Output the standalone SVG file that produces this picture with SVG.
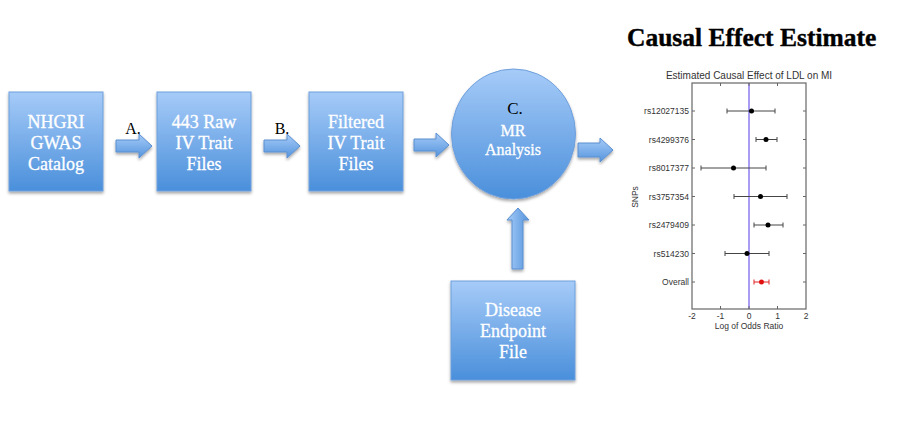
<svg xmlns="http://www.w3.org/2000/svg" width="903" height="422" viewBox="0 0 903 422">
<defs>
<linearGradient id="gb" x1="0" y1="0" x2="0" y2="1">
<stop offset="0" stop-color="#a6cbf8"/>
<stop offset="1" stop-color="#4a8fdb"/>
</linearGradient>
<linearGradient id="gh" x1="0" y1="0" x2="0" y2="1">
<stop offset="0" stop-color="#a6cbf8"/>
<stop offset="1" stop-color="#5595dd"/>
</linearGradient>
<linearGradient id="gv" x1="0" y1="0" x2="1" y2="0">
<stop offset="0" stop-color="#a6cbf8"/>
<stop offset="1" stop-color="#5595dd"/>
</linearGradient>
<filter id="sh" x="-10%" y="-10%" width="130%" height="130%">
<feDropShadow dx="0" dy="2" stdDeviation="1.5" flood-color="#000" flood-opacity="0.35"/>
</filter>
</defs>
<style>
.box{fill:url(#gb);stroke:#6e9fdc;stroke-width:1;filter:url(#sh)}
.arr{fill:url(#gh);stroke:#5a8fd0;stroke-width:1;filter:url(#sh)}
.wt{font-family:"Liberation Serif",serif;font-size:18px;fill:#fff;text-anchor:middle;stroke:#fff;stroke-width:0.3}
.bk{font-family:"Liberation Serif",serif;font-size:16px;fill:#000;text-anchor:middle}
.ax{font-family:"Liberation Sans",Arial,sans-serif;font-size:8.5px;fill:#333}
.frame{fill:none;stroke:#666;stroke-width:1.2}
.eb{stroke:#444;stroke-width:1;fill:none}
.tk{stroke:#666;stroke-width:1}
</style>

<g id="connectors">
<path class="arr" d="M116,140 H139 V134 L152,146 L139,158 V152 H116 Z"/>
<path class="arr" d="M264,140 H287 V134 L300,146 L287,158 V152 H264 Z"/>
<path class="arr" d="M414,139 H436 V133 L449,145 L436,157 V151 H414 Z"/>
<path class="arr" d="M578,143 H600 V138 L613,150 L600,162 V157 H578 Z"/>
<path class="arr" style="fill:url(#gv)" d="M512,269 V220 H507 L518,208 L529,220 H523 V269 Z"/>
</g>

<g id="labels">
<text class="bk" x="133" y="134">A.</text>
<text class="bk" x="282" y="134">B.</text>
</g>

<g id="nhgri">
<rect class="box" x="9" y="92" width="94" height="99"/>
<text class="wt" x="56" y="128">NHGRI</text>
<text class="wt" x="56" y="149">GWAS</text>
<text class="wt" x="56" y="170">Catalog</text>
</g>

<g id="raw">
<rect class="box" x="157" y="92" width="94" height="99"/>
<text class="wt" x="204" y="128">443 Raw</text>
<text class="wt" x="204" y="149">IV Trait</text>
<text class="wt" x="204" y="170">Files</text>
</g>

<g id="filtered">
<rect class="box" x="309" y="92" width="94" height="99"/>
<text class="wt" x="356" y="128">Filtered</text>
<text class="wt" x="356" y="149">IV Trait</text>
<text class="wt" x="356" y="170">Files</text>
</g>

<g id="mr">
<ellipse class="box" cx="513.5" cy="134" rx="62" ry="65"/>
<text class="bk" x="515" y="114" style="font-size:17px">C.</text>
<text class="wt" x="513" y="136" style="font-size:16px">MR</text>
<text class="wt" x="513" y="155" style="font-size:16px">Analysis</text>
</g>

<g id="disease">
<rect class="box" x="451" y="281" width="124" height="99"/>
<text class="wt" x="513" y="316">Disease</text>
<text class="wt" x="513" y="337">Endpoint</text>
<text class="wt" x="513" y="358">File</text>
</g>

<g id="plot">
<text x="627" y="46" style="font-family:'Liberation Serif',serif;font-weight:bold;font-size:25.5px;fill:#000;stroke:#000;stroke-width:0.4">Causal Effect Estimate</text>
<text class="ax" x="749" y="79" style="font-size:10px;text-anchor:middle">Estimated Causal Effect of LDL on MI</text>
<line x1="749" y1="83" x2="749" y2="309" stroke="#a89cf4" stroke-width="2"/>
<rect class="frame" x="692" y="83" width="114" height="226"/>
<g class="tk">
<path d="M692,111h3M692,139.5h3M692,168h3M692,196.5h3M692,225h3M692,253.5h3M692,282h3"/>
<path d="M806,111h-3M806,139.5h-3M806,168h-3M806,196.5h-3M806,225h-3M806,253.5h-3M806,282h-3"/>
<path d="M720.5,309v-3M749,309v-3M777.5,309v-3M720.5,83v3M749,83v3M777.5,83v3"/>
</g>
<g class="eb">
<path d="M727,111H775M727,108.5v5M775,108.5v5"/>
<path d="M756,139.5H777M756,137v5M777,137v5"/>
<path d="M701,168H766M701,165.5v5M766,165.5v5"/>
<path d="M734,196.5H787M734,194v5M787,194v5"/>
<path d="M754,225H783M754,222.5v5M783,222.5v5"/>
<path d="M725,253.5H769M725,251v5M769,251v5"/>
<path d="M754,282H769M754,279.5v5M769,279.5v5" stroke="#e02020"/>
</g>
<g fill="#000">
<circle cx="751.5" cy="111" r="2.5"/>
<circle cx="766" cy="139.5" r="2.5"/>
<circle cx="733.5" cy="168" r="2.5"/>
<circle cx="760.5" cy="196.5" r="2.5"/>
<circle cx="768" cy="225" r="2.5"/>
<circle cx="747" cy="253.5" r="2.5"/>
<circle cx="761.5" cy="282" r="2.5" fill="#e01010"/>
</g>
<g class="ax" style="text-anchor:end">
<text x="689" y="114">rs12027135</text>
<text x="689" y="142.5">rs4299376</text>
<text x="689" y="171">rs8017377</text>
<text x="689" y="199.5">rs3757354</text>
<text x="689" y="228">rs2479409</text>
<text x="689" y="256.5">rs514230</text>
<text x="689" y="285">Overall</text>
</g>
<g class="ax" style="text-anchor:middle">
<text x="692" y="319">-2</text>
<text x="720.5" y="319">-1</text>
<text x="749" y="319">0</text>
<text x="777.5" y="319">1</text>
<text x="806" y="319">2</text>
<text x="749" y="329">Log of Odds Ratio</text>
</g>
<text class="ax" transform="translate(638,197) rotate(-90)" style="text-anchor:middle">SNPs</text>
</g>
</svg>
